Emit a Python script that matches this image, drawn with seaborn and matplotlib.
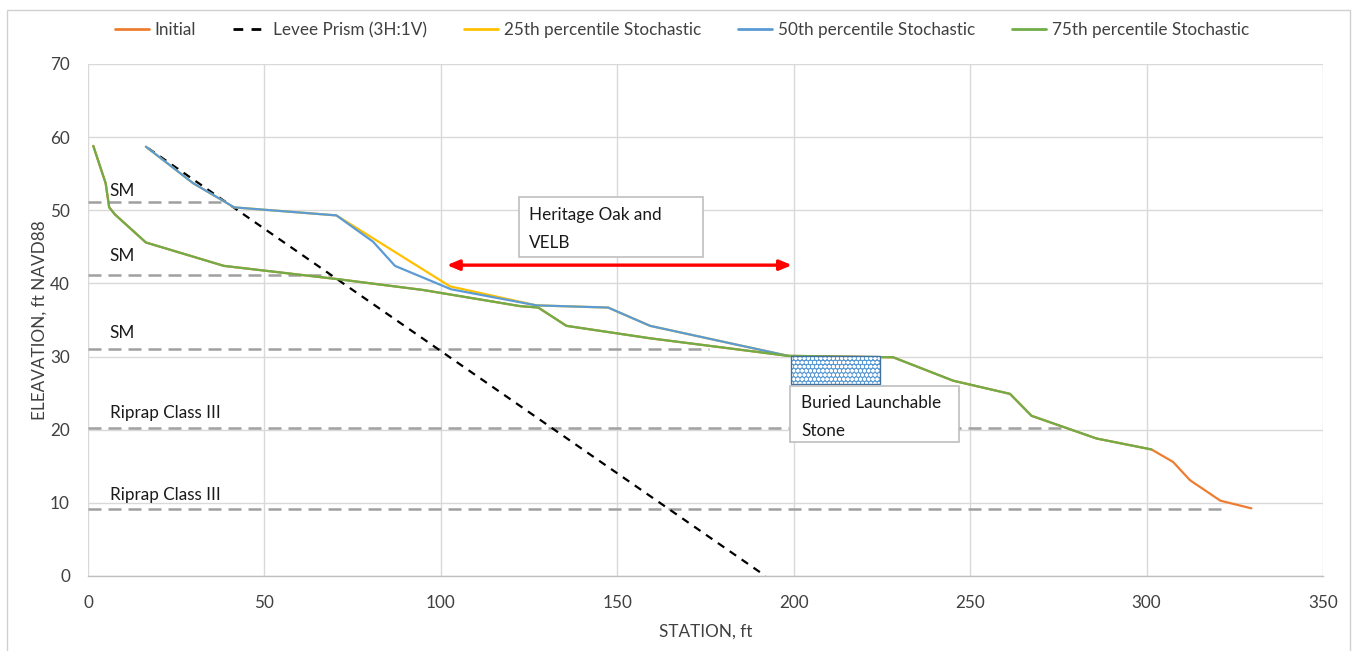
import matplotlib
matplotlib.use("Agg")
import matplotlib.pyplot as plt
from matplotlib.patches import Rectangle
import seaborn as sns

# ---- data -------------------------------------------------------------
# 75th percentile stochastic profile (station ft, elevation ft NAVD88)
p75_station = [1.5, 5.0, 6.0, 7.7, 16.4, 38.5, 70.5, 95.0, 122.4, 127.6, 135.6,
               159.3, 198.4, 228.2, 245.2, 261.3, 267.4, 285.8, 301.4]
p75_elev = [58.8, 53.7, 50.4, 49.4, 45.6, 42.4, 40.6, 39.1, 36.9, 36.7, 34.2,
            32.5, 30.1, 29.9, 26.7, 24.9, 21.9, 18.8, 17.3]

# initial profile (shares the lower bank with the stochastic results)
initial_station = p75_station + [307.5, 312.3, 320.9, 329.7]
initial_elev = p75_elev + [15.6, 13.1, 10.3, 9.25]

# 50th percentile stochastic profile
p50_station = [16.4, 29.8, 38.3, 41.4, 70.4, 80.8, 87.0, 102.9, 127.1, 147.4,
               159.3, 198.4]
p50_elev = [58.7, 53.7, 51.3, 50.4, 49.3, 45.7, 42.4, 39.2, 37.0, 36.7, 34.2, 30.1]

# 25th percentile stochastic profile
p25_station = [16.4, 29.8, 38.3, 41.4, 70.4, 102.6, 127.1, 147.4, 159.3, 198.4]
p25_elev = [58.7, 53.7, 51.3, 50.4, 49.3, 39.6, 37.0, 36.7, 34.2, 30.1]

# levee prism, 3H:1V
prism_station = [17.0, 192.0]
prism_elev = [58.5, 0.0]

# material layer elevations and extents
layer_names = ["SM", "SM", "SM", "Riprap Class III", "Riprap Class III"]
layer_elev = [51.2, 41.2, 31.0, 20.2, 9.2]
layer_end = [38.0, 69.0, 176.0, 277.0, 321.0]

# habitat reach (station range) and buried launchable stone block
habitat_range = [101.7, 199.5]
stone_station = [199.2, 224.4]
stone_elev = [26.3, 30.1]

x_ticks = [0, 50, 100, 150, 200, 250, 300, 350]
y_ticks = [0, 10, 20, 30, 40, 50, 60, 70]

# ---- style ------------------------------------------------------------
sns.set_theme(style="white")
plt.rcParams["font.family"] = ["Lato", "DejaVu Sans"]
FS = 12.3
TXT = "#404040"

fig = plt.figure(figsize=(13.56, 6.51), dpi=100)
ax = fig.add_axes([88 / 1356, 1 - 576 / 651, (1323 - 88) / 1356, (576 - 64) / 651])

ORANGE, YELLOW, BLUE, GREEN = "#ed7d31", "#ffc000", "#5b9bd5", "#70ad47"
LW = 1.6

# material layers (grey dashed) with labels
label_base = [51.9, 43.1, 32.5, 21.6, 10.4]
for name, lvl, end, yb in zip(layer_names, layer_elev, layer_end, label_base):
    sns.lineplot(x=[0, end], y=[lvl, lvl], ax=ax, color="#a0a0a0", lw=1.8,
                 dashes=False, linestyle=(0, (5.2, 2.8)), zorder=2)
    ax.text(6.2, yb, name, fontsize=FS, color="#1a1a1a", ha="left", va="baseline")

# profiles
sns.lineplot(x=initial_station, y=initial_elev, ax=ax, color=ORANGE, lw=LW,
             sort=False, estimator=None, label="Initial", zorder=3)
sns.lineplot(x=prism_station, y=prism_elev, ax=ax, color="black", lw=1.6,
             sort=False, estimator=None, label="Levee Prism (3H:1V)",
             linestyle=(0, (3.5, 3)), zorder=3)
sns.lineplot(x=p25_station, y=p25_elev, ax=ax, color=YELLOW, lw=LW,
             sort=False, estimator=None, label="25th percentile Stochastic", zorder=4)
sns.lineplot(x=p50_station, y=p50_elev, ax=ax, color=BLUE, lw=LW,
             sort=False, estimator=None, label="50th percentile Stochastic", zorder=5)
sns.lineplot(x=p75_station, y=p75_elev, ax=ax, color=GREEN, lw=LW,
             sort=False, estimator=None, label="75th percentile Stochastic", zorder=6)

# buried launchable stone block
ax.add_patch(Rectangle((stone_station[0], stone_elev[0]),
                       stone_station[1] - stone_station[0], stone_elev[1] - stone_elev[0],
                       facecolor=BLUE, edgecolor="white", hatch="oooo", lw=0, zorder=6))
ax.add_patch(Rectangle((stone_station[0], stone_elev[0]),
                       stone_station[1] - stone_station[0], stone_elev[1] - stone_elev[0],
                       facecolor="none", edgecolor="#41719c", lw=1.0, zorder=7))

# habitat reach arrow
ax.annotate("", xy=(habitat_range[1], 42.5), xytext=(habitat_range[0], 42.5),
            arrowprops=dict(arrowstyle="<|-|>,head_length=0.6,head_width=0.25",
                            color="#ff0000", lw=2.4, shrinkA=0, shrinkB=0), zorder=7)

# callout boxes
def callout(x0, x1, y0, y1, lines, tx, ty, dy):
    ax.add_patch(Rectangle((x0, y0), x1 - x0, y1 - y0, facecolor="white",
                           edgecolor="#bfbfbf", lw=1.2, zorder=8))
    for i, ln in enumerate(lines):
        ax.text(tx, ty - i * dy, ln, fontsize=FS, color="#1a1a1a",
                ha="left", va="center", zorder=9)

callout(122.1, 174.3, 43.6, 51.8, ["Heritage Oak and", "VELB"], 124.9, 49.4, 3.85)
callout(198.9, 246.8, 18.3, 26.0, ["Buried Launchable", "Stone"], 202.2, 23.65, 3.85)

# axes
ax.set_xlim(0, 350)
ax.set_ylim(0, 70)
ax.set_xticks(x_ticks)
ax.set_yticks(y_ticks)
ax.grid(True, color="#d9d9d9", lw=1.0)
ax.set_axisbelow(True)
for side in ["top", "right", "left"]:
    ax.spines[side].set_visible(False)
ax.spines["bottom"].set_color("#bfbfbf")
ax.spines["bottom"].set_linewidth(1.0)
ax.tick_params(axis="both", length=0, labelsize=FS, labelcolor=TXT)
ax.tick_params(axis="x", pad=14)
ax.tick_params(axis="y", pad=13)
ax.set_xlabel("STATION, ft", fontsize=FS, color=TXT, labelpad=9)
ax.set_ylabel("ELEAVATION, ft NAVD88", fontsize=FS, color=TXT, labelpad=2)

# legend across the top
leg = ax.legend(loc="center", bbox_to_anchor=(0.503, 1 - 30 / 651),
                bbox_transform=fig.transFigure, ncol=5, frameon=False,
                fontsize=FS, handlelength=2.0, handletextpad=0.35,
                columnspacing=2.15, labelcolor=TXT)
for h in leg.get_lines():
    h.set_linewidth(2.0)

# outer chart frame
fig.add_artist(Rectangle((7 / 1356, -0.01), (1350 - 7) / 1356, 1 - 10 / 651 + 0.01,
                         transform=fig.transFigure, facecolor="none",
                         edgecolor="#d0d0d0", lw=1.0))

fig.savefig("out.png", dpi=100)
